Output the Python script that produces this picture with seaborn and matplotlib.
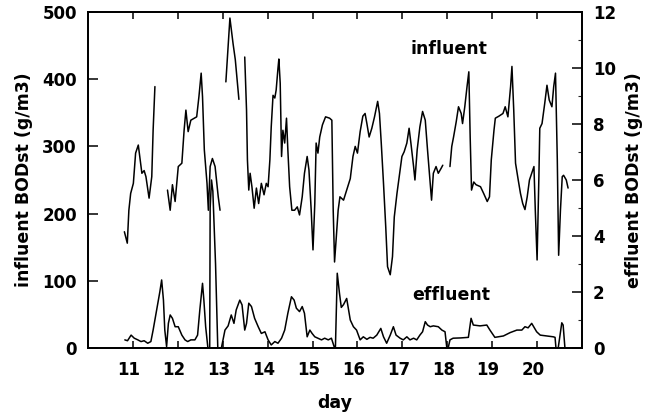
import numpy as np
import pandas as pd
import matplotlib
matplotlib.use("Agg")
import matplotlib.pyplot as plt
import seaborn as sns
from matplotlib.ticker import MultipleLocator
from matplotlib.transforms import ScaledTranslation

# ---------------- data ----------------
NA = np.nan
influent_day = [
    10.81, 10.875, 10.91, 10.95, 11.01, 11.06, 11.12, 11.20, 11.25, 11.29, 11.36, 11.42, 11.45, 11.49,
    NA,
    11.77, 11.83, 11.88, 11.94, 12.01, 12.09, 12.14, 12.18, 12.23, 12.29, 12.42, 12.47, 12.52, 12.55,
    12.59, 12.65, 12.68, 12.72, 12.77, 12.83, 12.90, 12.94,
    NA,
    13.07, 13.16, 13.23, 13.28, 13.36,
    NA,
    13.49, 13.53, 13.55, 13.58, 13.61, 13.65, 13.70, 13.75, 13.80, 13.86, 13.92, 13.97, 14.01, 14.05,
    14.08, 14.12, 14.16, 14.19, 14.23, 14.25, 14.28, 14.31, 14.34, 14.38, 14.42, 14.45, 14.49, 14.54,
    14.60, 14.66, 14.71, 14.77, 14.82, 14.88, 14.92, 14.97, 15.01, 15.05, 15.08, 15.12, 15.16, 15.22,
    15.29, 15.38, 15.43, 15.46, 15.49, 15.53, 15.57, 15.61, 15.69, 15.76, 15.84, 15.90, 15.95, 16.00,
    16.06, 16.12, 16.17, 16.21, 16.26, 16.32, 16.38, 16.45, 16.49, 16.53, 16.58, 16.63, 16.67, 16.73,
    16.78, 16.82, 16.88, 16.93, 16.99, 17.04, 17.10, 17.15, 17.19, 17.25, 17.28, 17.33, 17.39, 17.45,
    17.51, 17.56, 17.62, 17.65, 17.69, 17.75, 17.80, 17.86, 17.90,
    NA,
    18.06, 18.10, 18.14, 18.20, 18.25, 18.31, 18.34, 18.39, 18.44, 18.48, 18.51, 18.54, 18.59, 18.64,
    18.74, 18.81, 18.89, 18.94, 18.98, 19.04, 19.07, 19.15, 19.24, 19.29, 19.35, 19.41, 19.44, 19.48,
    19.52, 19.58, 19.63, 19.68, 19.73, 19.78, 19.83, 19.89, 19.93, 19.96, 20.00, 20.04, 20.06, 20.11,
    20.17, 20.22, 20.27, 20.33, 20.37, 20.41, 20.45, 20.48, 20.52, 20.56, 20.59, 20.65, 20.69,
]
influent_bod = [
    173, 156, 205, 230, 245, 290, 302, 260, 264, 255, 223, 255, 324, 389,
    NA,
    235, 205, 243, 218, 270, 275, 324, 354, 322, 339, 344, 374, 409, 374,
    295, 245, 205, 270, 282, 270, 225, 205,
    NA,
    396, 491, 453, 429, 370,
    NA,
    433, 354, 280, 235, 260, 240, 208, 238, 215, 245, 228, 245, 240, 280,
    329, 376, 372, 384, 416, 430, 394, 285, 324, 305, 342, 295, 240, 205,
    205, 210, 198, 225, 260, 285, 265, 205, 146, 215, 305, 290, 314, 332,
    344, 342, 339, 205, 128, 166, 205, 225, 220, 235, 252, 285, 300, 290,
    322, 345, 349, 334, 314, 327, 344, 367, 349, 305, 245, 180, 121, 109,
    136, 195, 230, 255, 285, 292, 305, 327, 305, 270, 250, 295, 329, 352,
    339, 295, 245, 220, 260, 270, 260, 267, 272,
    NA,
    270, 300, 314, 337, 359, 349, 334, 359, 389, 411, 314, 235, 247, 243,
    240, 230, 218, 225, 280, 324, 342, 345, 349, 359, 344, 389, 419, 354,
    275, 250, 230, 215, 206, 225, 250, 262, 270, 205, 131, 255, 327, 334,
    364, 391, 369, 359, 389, 409, 280, 138, 205, 255, 257, 250, 238,
]

effluent_day = [
    10.82, 10.88, 10.96, 11.03, 11.11, 11.18, 11.25, 11.33, 11.40, 11.45, 11.53, 11.60, 11.64, 11.68,
    11.71, 11.75, 11.79, 11.83, 11.88, 11.94, 12.01, 12.09, 12.16, 12.22, 12.29, 12.38, 12.44, 12.49,
    12.55, 12.58, 12.62, 12.67, 12.71, 12.72, 12.75, 12.78, 12.84, 12.89, 12.97, 13.05, 13.12, 13.19,
    13.25, 13.30, 13.38, 13.43, 13.49, 13.53, 13.58, 13.64, 13.71, 13.79, 13.86, 13.94, 14.01, 14.08,
    14.16, 14.23, 14.31, 14.38, 14.45, 14.53, 14.59, 14.64, 14.71, 14.77, 14.82, 14.88, 14.94, 14.99,
    15.05, 15.12, 15.20, 15.27, 15.35, 15.42, 15.48, 15.51, 15.55, 15.60, 15.64, 15.69, 15.76, 15.84,
    15.91, 15.98, 16.06, 16.13, 16.21, 16.28, 16.35, 16.43, 16.52, 16.58, 16.65, 16.73, 16.80, 16.86,
    16.95, 17.02, 17.10, 17.17, 17.25, 17.32, 17.39, 17.45, 17.51, 17.56, 17.62, 17.69, 17.80, 17.88,
    17.95, 17.99, 18.02, 18.06, 18.13, 18.30, 18.47, 18.53, 18.58, 18.73, 18.88, 18.95, 19.06, 19.25,
    19.40, 19.55, 19.66, 19.73, 19.80, 19.88, 19.99, 20.07, 20.21, 20.36, 20.40, 20.42, 20.47, 20.51,
    20.55, 20.58, 20.62,
]
effluent_bod = [
    0.29, 0.26, 0.46, 0.35, 0.29, 0.23, 0.26, 0.17, 0.23, 0.64, 1.36, 2.01, 2.43, 1.71,
    0.64, 0.05, 0.88, 1.18, 1.06, 0.76, 0.76, 0.46, 0.29, 0.23, 0.29, 0.29, 0.46, 1.36,
    2.31, 1.71, 0.76, 0.0, 0.0, 5.0, 6.0, 5.6, 3.0, 0.0, 0.0, 0.64, 0.79, 1.18,
    0.88, 1.36, 1.71, 1.54, 0.64, 0.88, 1.60, 1.48, 1.06, 0.76, 0.52, 0.58, 0.29, 0.11,
    0.23, 0.17, 0.35, 0.64, 1.24, 1.83, 1.71, 1.42, 1.30, 1.48, 1.24, 0.40, 0.64, 0.52,
    0.40, 0.35, 0.29, 0.35, 0.29, 0.35, 0.05, 0.05, 2.67, 1.95, 1.45, 1.55, 1.77, 1.0,
    0.76, 0.64, 0.29, 0.40, 0.31, 0.38, 0.35, 0.46, 0.70, 0.40, 0.17, 0.46, 0.76, 0.46,
    0.35, 0.29, 0.40, 0.29, 0.35, 0.29, 0.46, 0.58, 0.94, 0.82, 0.76, 0.79, 0.76, 0.64,
    0.58, 0.0, 0.0, 0.29, 0.35, 0.36, 0.38, 1.06, 0.82, 0.79, 0.82, 0.64, 0.38, 0.43,
    0.55, 0.64, 0.64, 0.76, 0.72, 0.88, 0.58, 0.46, 0.43, 0.40, 0.38, 0.0, 0.0, 0.46,
    0.90, 0.82, 0.0,
]

day_ticks = [11, 12, 13, 14, 15, 16, 17, 18, 19, 20]
left_ticks = [0, 100, 200, 300, 400, 500]
right_ticks = [0, 2, 4, 6, 8, 10, 12]

# ---------------- tables ----------------
inf = pd.DataFrame({"day": influent_day, "bod": influent_bod})
inf["seg"] = inf["day"].isna().cumsum()
inf = inf.dropna().reset_index(drop=True)
eff = pd.DataFrame({"day": effluent_day, "bod": effluent_bod})

# ---------------- style ----------------
sns.set_style("white")
plt.rcParams["font.family"] = ["DejaVu Sans"]
plt.rcParams["font.weight"] = "bold"
plt.rcParams["axes.labelweight"] = "bold"
plt.rcParams["text.color"] = "black"
plt.rcParams["axes.labelcolor"] = "black"

fig = plt.figure(figsize=(6.46, 4.15), dpi=100)
ax = fig.add_axes([88 / 646, 67 / 415, 494 / 646, 336 / 415])

sns.lineplot(data=inf, x="day", y="bod", units="seg", estimator=None, sort=False,
             color="black", linewidth=1.1, legend=False, ax=ax)
ax2 = ax.twinx()
sns.lineplot(data=eff, x="day", y="bod", estimator=None, sort=False,
             color="black", linewidth=1.1, legend=False, ax=ax2)

ax.set_xlim(10, 21)
ax.set_ylim(0, 500)
ax2.set_ylim(0, 12)
ax.set_xticks(day_ticks)
ax.set_yticks(left_ticks)
ax2.set_yticks(right_ticks)
ax2.yaxis.set_minor_locator(MultipleLocator(1))

ax.tick_params(axis="x", direction="in", top=True, bottom=True, length=5, width=1.1,
               labelsize=12, pad=9, colors="black")
ax.tick_params(axis="y", direction="in", left=True, right=False, length=7, width=1.1,
               labelsize=12, pad=8, colors="black")
ax2.tick_params(axis="y", which="major", direction="in", right=True, length=7, width=1.1,
                labelsize=12, pad=8, colors="black")
ax2.tick_params(axis="y", which="minor", direction="in", right=True, length=3, width=0.8)

off = ScaledTranslation(-4 / 100, 0, fig.dpi_scale_trans)
for lab in ax.get_xticklabels():
    lab.set_transform(lab.get_transform() + off)

for a in (ax, ax2):
    for s in a.spines.values():
        s.set_color("black")
        s.set_linewidth(1.3)

ax.set_xlabel("day", fontsize=12.5, labelpad=11, color="black")
ax.set_ylabel("influent BODst (g/m3)", fontsize=12.5, labelpad=7, color="black")
ax2.set_ylabel("effluent BODst (g/m3)", fontsize=12.5, labelpad=6, color="black")

ax.text(18.04, 445, "influent", fontsize=12.5, ha="center", va="center", color="black")
ax.text(18.08, 79, "effluent", fontsize=12.5, ha="center", va="center", color="black")

fig.savefig("out.png", dpi=100)
